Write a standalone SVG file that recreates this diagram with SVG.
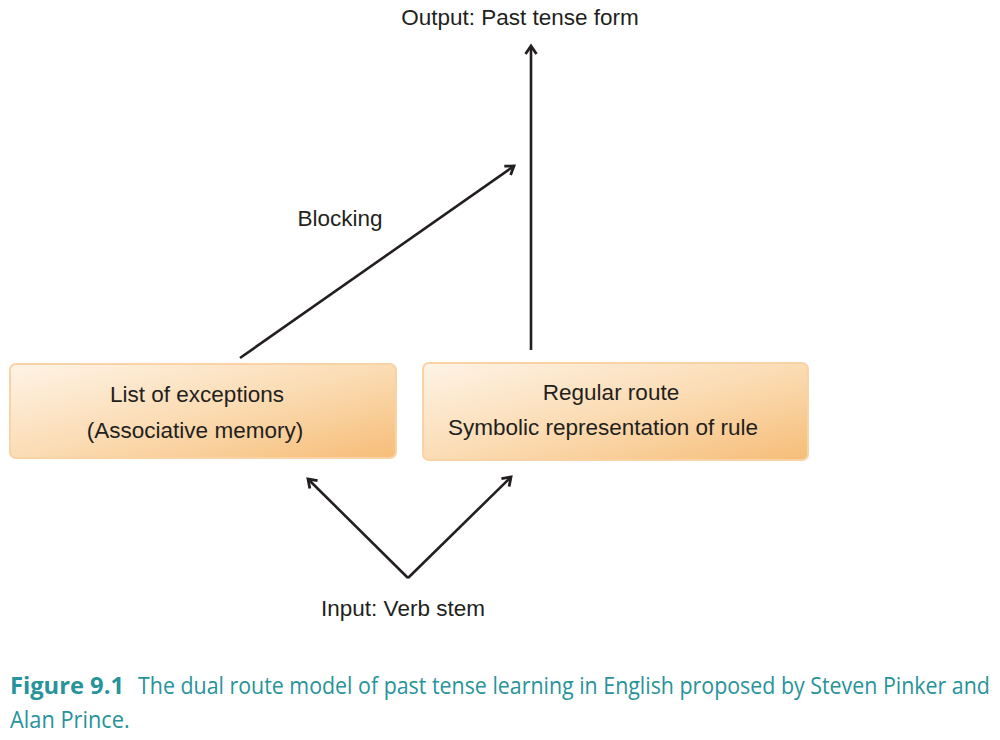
<svg xmlns="http://www.w3.org/2000/svg" width="1000" height="740" viewBox="0 0 1000 740">
<style>
.t{font-family:"Liberation Sans",Arial,sans-serif;font-size:22.5px;fill:#231f20;text-anchor:middle}
.c{stroke:#231f20;stroke-width:2.6;fill:none}
.box{stroke:#f9d3a6;stroke-width:2}
.cap{font-family:"Open Sans","Noto Sans",sans-serif;font-size:24px;fill:#27939a}
</style>
<defs>
<linearGradient id="g" x1="0" y1="0" x2="1" y2="1">
<stop offset="0" stop-color="#fef3e6"/>
<stop offset="0.5" stop-color="#fbdcb4"/>
<stop offset="1" stop-color="#f6bd78"/>
</linearGradient>
<marker id="a" markerWidth="14" markerHeight="14" refX="10" refY="7" orient="auto" markerUnits="userSpaceOnUse">
<path d="M2,1.5 L10,7 L2,12.5" fill="none" stroke="#231f20" stroke-width="2.8" stroke-linejoin="miter"/>
</marker>
</defs>
<g id="connectors">
<line class="c" x1="531" y1="350" x2="531" y2="46" marker-end="url(#a)"/>
<line class="c" x1="240" y1="358" x2="514" y2="166" marker-end="url(#a)"/>
<line class="c" x1="408" y1="578" x2="308" y2="479" marker-end="url(#a)"/>
<line class="c" x1="408" y1="578" x2="511" y2="477" marker-end="url(#a)"/>
</g>
<g id="output"><text class="t" x="520" y="25">Output: Past tense form</text></g>
<g id="blocking"><text class="t" x="340" y="226">Blocking</text></g>
<g id="exceptions">
<rect class="box" x="10" y="364" width="386" height="94" rx="6" fill="url(#g)"/>
<text class="t" x="197" y="402">List of exceptions</text>
<text class="t" x="195" y="438">(Associative memory)</text>
</g>
<g id="regular">
<rect class="box" x="423" y="363" width="385" height="97" rx="6" fill="url(#g)"/>
<text class="t" x="611" y="400">Regular route</text>
<text class="t" x="603" y="435">Symbolic representation of rule</text>
</g>
<g id="input"><text class="t" x="403" y="616">Input: Verb stem</text></g>
<g id="caption">
<g transform="translate(10,694) scale(0.88,1)">
<text class="cap" x="0" y="0" font-weight="bold" textLength="129.5" lengthAdjust="spacingAndGlyphs">Figure 9.1</text>
<text class="cap" x="145.5" y="0" textLength="968" lengthAdjust="spacingAndGlyphs">The dual route model of past tense learning in English proposed by Steven Pinker and</text>
</g>
<g transform="translate(10,728) scale(0.88,1)">
<text class="cap" x="0" y="0" textLength="136" lengthAdjust="spacingAndGlyphs">Alan Prince.</text>
</g>
</g>
</svg>
